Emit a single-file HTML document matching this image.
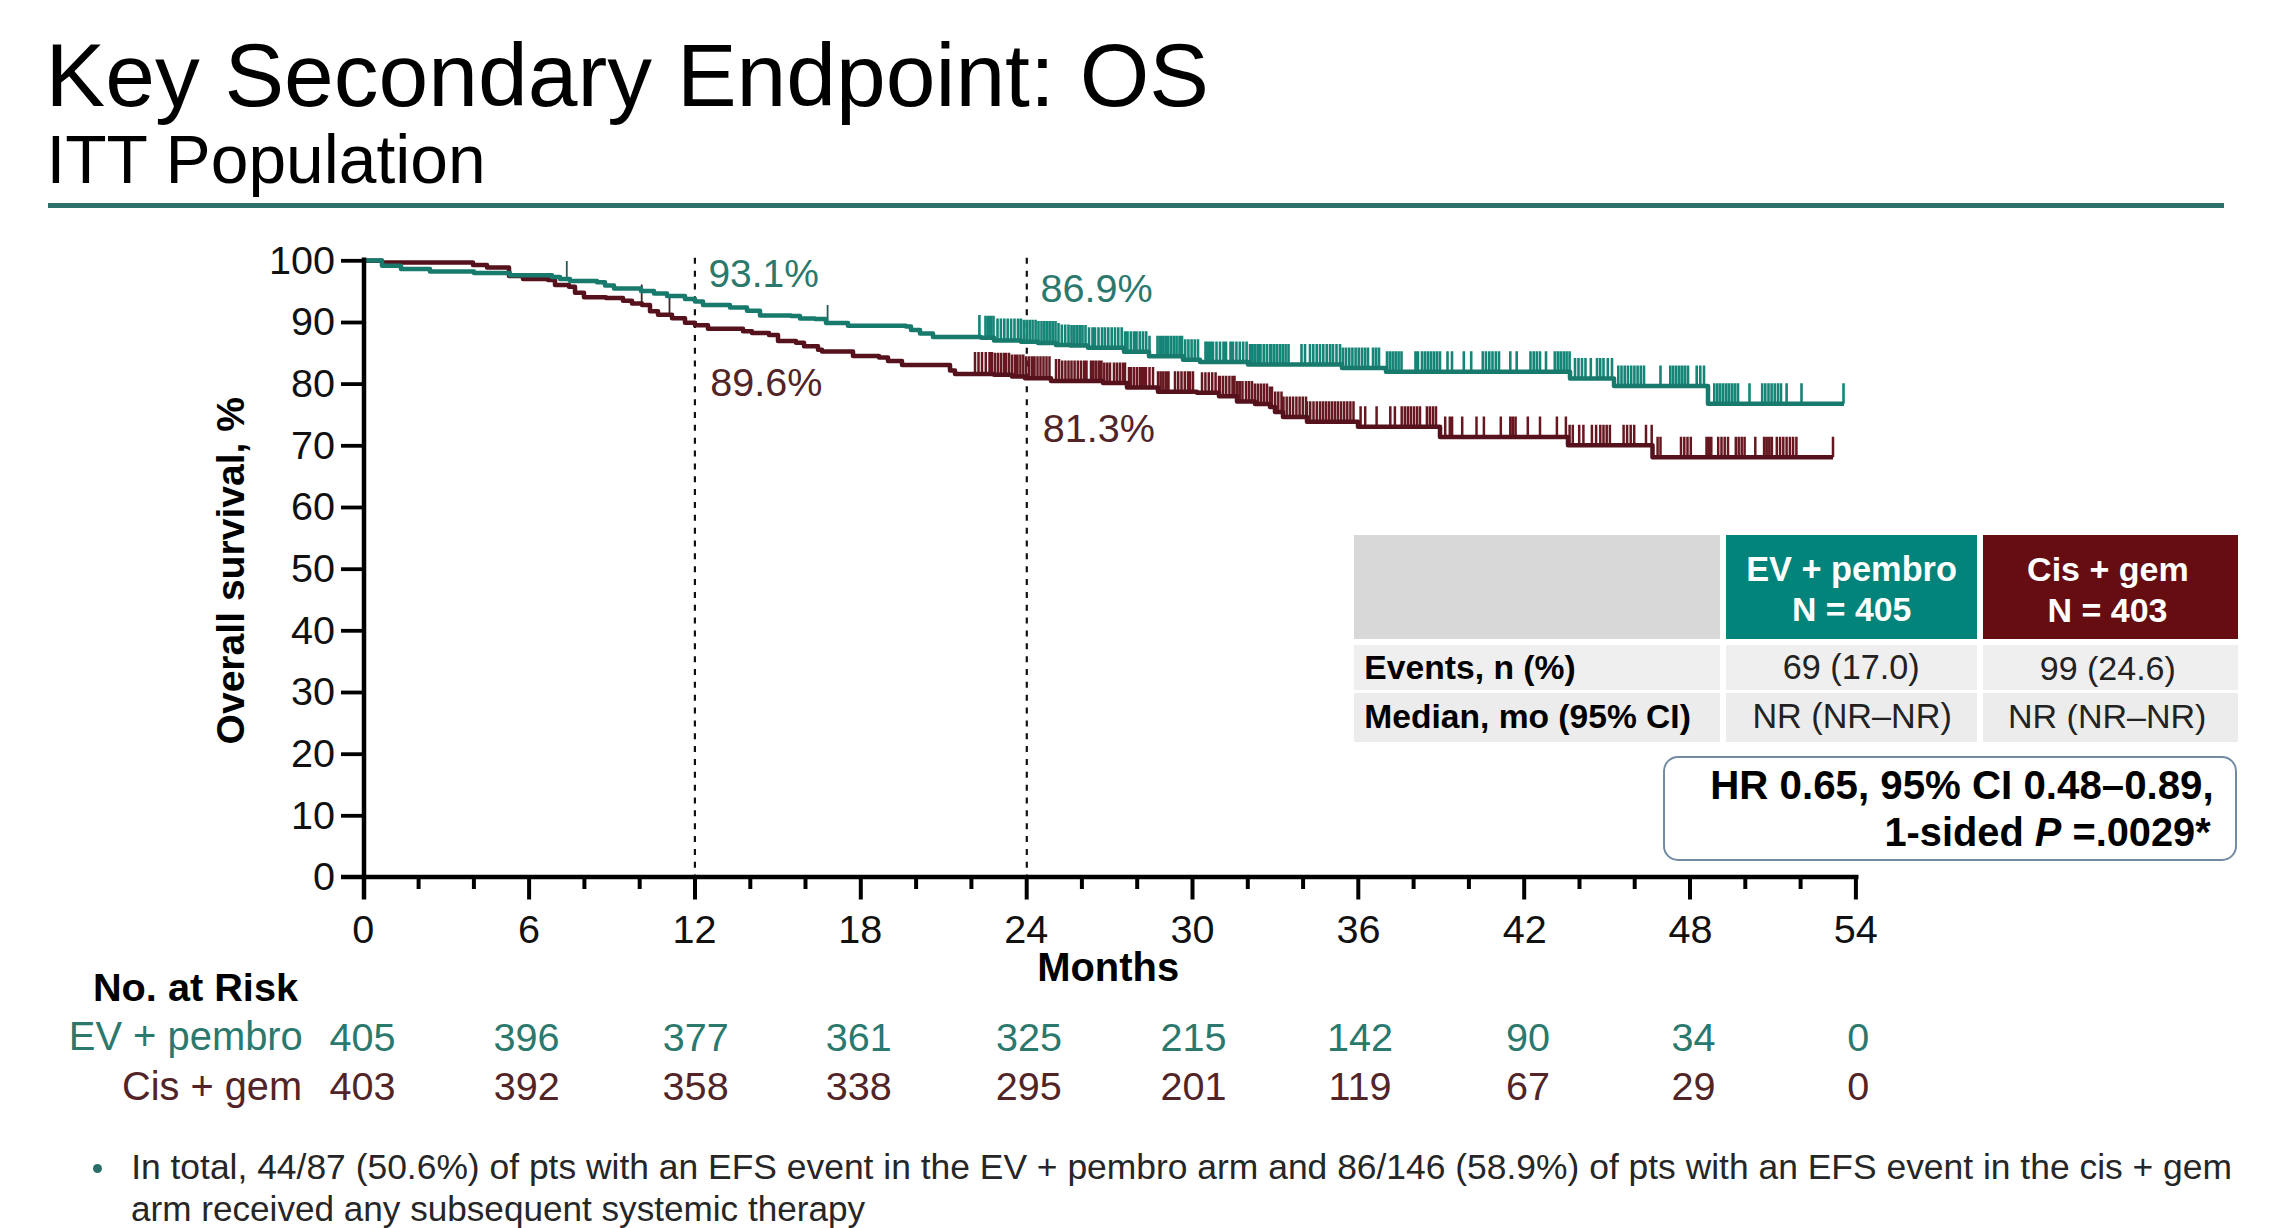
<!DOCTYPE html>
<html><head><meta charset="utf-8"><style>
html,body{margin:0;padding:0;background:#fff;}
body{width:2274px;height:1228px;position:relative;overflow:hidden;font-family:"Liberation Sans",sans-serif;}
.t{position:absolute;white-space:nowrap;transform-origin:0 0;}
.b{position:absolute;}
</style></head><body>
<div class="b" style="left:48px;top:203px;width:2176px;height:5px;background:#2c7169"></div>
<div class="b" style="left:1354px;top:535px;width:366px;height:104px;background:#d8d8d8"></div>
<div class="b" style="left:1725.5px;top:535px;width:251px;height:104px;background:#02847a"></div>
<div class="b" style="left:1983px;top:535px;width:254.5px;height:104px;background:#650d11"></div>
<div class="b" style="left:1354px;top:645px;width:366px;height:44.5px;background:#efefef"></div>
<div class="b" style="left:1725.5px;top:645px;width:251px;height:44.5px;background:#efefef"></div>
<div class="b" style="left:1983px;top:645px;width:254.5px;height:44.5px;background:#efefef"></div>
<div class="b" style="left:1354px;top:693px;width:366px;height:49px;background:#ececec"></div>
<div class="b" style="left:1725.5px;top:693px;width:251px;height:49px;background:#ececec"></div>
<div class="b" style="left:1983px;top:693px;width:254.5px;height:49px;background:#ececec"></div>
<div class="b" style="left:1663px;top:755.5px;width:574px;height:105px;border:2.5px solid #728aa3;border-radius:15px;box-sizing:border-box;background:#fff"></div>
<div class="b" style="left:92.5px;top:1164px;width:9px;height:9px;border-radius:50%;background:#2a6e6a"></div>
<svg width="2274" height="1228" viewBox="0 0 2274 1228" style="position:absolute;left:0;top:0">
<line x1="694.9" y1="257.8" x2="694.9" y2="876" stroke="#111" stroke-width="2.2" stroke-dasharray="6 6.85"/>
<line x1="1026.8" y1="257.8" x2="1026.8" y2="876" stroke="#111" stroke-width="2.2" stroke-dasharray="6 6.85"/>
<path d="M975.0,373.9V351.9M978.5,373.9V351.9M982.0,373.9V351.9M985.8,373.9V351.9M989.5,373.9V351.9M992.0,373.9V351.9M995.0,374.8V352.8M998.0,374.8V352.8M1001.0,374.8V352.8M1004.0,374.8V352.8M1006.0,374.8V352.8M1009.0,374.8V352.8M1012.0,376.5V354.5M1015.0,376.5V354.5M1017.5,376.5V354.5M1020.4,376.5V354.5M1023.3,376.5V354.5M1026.2,378.3V356.3M1029.1,378.3V356.3M1032.0,378.3V356.3M1034.5,378.3V356.3M1037.5,378.3V356.3M1040.5,378.3V356.3M1043.5,378.3V356.3M1046.5,378.3V356.3M1049.5,378.3V356.3M1056.0,381.0V359.0M1059.1,381.0V359.0M1062.2,381.0V360.5M1065.4,381.0V360.5M1068.5,381.0V360.5M1071.5,381.0V360.5M1074.6,381.0V360.5M1077.8,381.0V360.5M1080.9,381.0V360.5M1084.0,381.0V360.5M1086.5,381.0V360.5M1091.0,381.0V360.5M1093.5,381.0V360.5M1096.2,381.0V360.5M1099.0,381.0V360.5M1101.5,381.0V360.5M1104.3,383.0V362.5M1107.2,383.0V362.5M1110.0,383.0V362.5M1114.0,383.0V362.5M1117.0,383.0V362.5M1120.0,383.0V362.5M1123.0,383.0V362.5M1125.0,383.0V362.5M1129.0,387.4V366.9M1131.0,387.4V366.9M1134.0,387.4V366.9M1137.0,387.4V366.9M1140.0,387.4V366.9M1142.0,387.4V366.9M1144.0,387.4V366.9M1146.0,387.4V366.9M1149.5,387.4V366.9M1153.0,387.4V366.9M1158.0,391.8V371.3M1160.7,391.8V371.3M1163.3,391.8V371.3M1166.0,391.8V371.3M1168.5,391.8V371.3M1175.0,391.8V371.3M1178.2,391.8V371.3M1181.5,391.8V371.3M1184.8,391.8V371.3M1188.0,391.8V371.3M1190.0,391.8V371.3M1193.0,391.8V371.3M1202.0,392.7V372.2M1205.4,392.7V372.2M1208.8,392.7V372.2M1212.2,392.7V372.2M1215.6,392.7V372.2M1219.0,396.2V375.7M1220.0,396.2V375.7M1223.1,396.2V375.7M1226.2,396.2V375.7M1229.4,396.2V375.7M1232.5,396.2V375.7M1234.5,396.2V375.7M1237.2,401.5V381.0M1239.8,401.5V381.0M1242.5,401.5V381.0M1246.0,401.5V381.0M1249.0,401.5V381.0M1252.0,401.5V381.0M1255.0,404.1V383.6M1258.0,404.1V383.6M1261.0,404.1V383.6M1264.0,404.1V383.6M1267.0,404.1V383.6M1270.0,407.0V386.5M1272.0,407.0V386.5M1275.2,412.0V391.5M1278.3,412.0V391.5M1281.5,412.0V391.5M1283.5,417.0V396.5M1286.7,417.0V396.5M1289.9,417.0V396.5M1293.1,417.0V396.5M1296.4,417.0V396.5M1299.6,417.0V396.5M1302.8,417.0V396.5M1306.0,417.0V396.5M1307.0,421.8V401.3M1310.2,421.8V401.3M1313.5,421.8V401.3M1316.8,421.8V401.3M1320.0,421.8V401.3M1323.0,421.8V401.3M1326.0,421.8V401.3M1329.0,421.8V401.3M1332.0,421.8V401.3M1335.0,421.8V401.3M1338.0,421.8V401.3M1341.1,421.8V401.3M1344.2,421.8V401.3M1347.3,421.8V401.3M1350.4,421.8V401.3M1353.5,421.8V401.3M1360.6,426.7V406.2M1365.2,426.7V406.2M1376.6,426.7V406.2M1390.3,426.7V406.2M1394.9,426.7V406.2M1401.7,426.7V406.2M1404.8,426.7V406.2M1407.8,426.7V406.2M1410.8,426.7V406.2M1413.9,426.7V406.2M1417.0,426.7V406.2M1420.0,426.7V406.2M1426.9,426.7V406.2M1429.9,426.7V406.2M1433.0,426.7V406.2M1436.0,426.7V406.2M1445.2,437.0V416.5M1449.8,437.0V416.5M1452.1,437.0V416.5M1462.2,437.0V416.5M1476.5,437.0V416.5M1483.9,437.0V416.5M1500.8,437.0V416.5M1510.3,437.0V416.5M1512.9,437.0V416.5M1515.6,437.0V416.5M1527.8,437.0V416.5M1540.0,437.0V416.5M1556.9,437.0V416.5M1565.9,437.0V416.5M1569.6,445.3V424.8M1572.8,445.3V424.8M1579.2,445.3V424.8M1583.4,445.3V424.8M1591.9,445.3V424.8M1596.1,445.3V424.8M1600.3,445.3V424.8M1603.5,445.3V424.8M1606.7,445.3V424.8M1609.9,445.3V424.8M1623.6,445.3V424.8M1627.1,445.3V424.8M1630.7,445.3V424.8M1634.2,445.3V424.8M1646.0,445.3V424.8M1651.7,445.3V424.8M1657.6,457.3V436.8M1660.5,457.3V436.8M1681.0,457.3V436.8M1684.3,457.3V436.8M1687.5,457.3V436.8M1690.8,457.3V436.8M1706.5,457.3V436.8M1708.9,457.3V436.8M1711.3,457.3V436.8M1718.2,457.3V436.8M1721.5,457.3V436.8M1724.7,457.3V436.8M1728.0,457.3V436.8M1735.8,457.3V436.8M1738.7,457.3V436.8M1741.7,457.3V436.8M1744.6,457.3V436.8M1755.3,457.3V436.8M1764.1,457.3V436.8M1766.7,457.3V436.8M1769.3,457.3V436.8M1771.9,457.3V436.8M1776.8,457.3V436.8M1780.1,457.3V436.8M1783.3,457.3V436.8M1786.6,457.3V436.8M1789.9,457.3V436.8M1793.1,457.3V436.8M1796.4,457.3V436.8M1833.0,457.3V436.8" stroke="#661820" stroke-width="2.5" fill="none"/>
<path d="M641.7,303.4V284.4M669.5,314.8V295.8" stroke="#3a2a2a" stroke-width="1.8" fill="none"/>
<path d="M363,260.8H382V262.5H473V265H487V267.6H509V276H523V279H548V280H555V284.9H569V286.7H575V292.8H584V297.2H606V298.1H623V300.7H632V303.4H642V305.1H650V311.3H658V314.8H672V318.3H685V322.7H695V325.2H708V328.7H743V331.3H752V333.1H769V334.9H778V341H796V342.8H804V346.3H818V349.8H822V351.6H853V356H879V357.5H888V361H902V365.1H950V370.4H955V373.9H994V374.8H1012V376.5H1025V378.3H1051V381H1103V383H1127V387.4H1158V391.8H1197V392.7H1219V396.2H1237V401.5H1255V404.1H1270V407H1275V412H1283V417H1307V421.8H1358V426.7H1440V437H1568V445.3H1652.5V457.3H1833" stroke="#55121c" stroke-width="4.5" fill="none" stroke-linejoin="round"/>
<path d="M979.4,336.9V314.9M985.5,337.8V315.8M988.2,337.8V315.8M990.8,337.8V315.8M993.5,337.8V315.8M997.5,340.5V318.5M1000.9,340.5V318.5M1004.3,340.5V318.5M1007.7,340.5V318.5M1011.1,340.5V318.5M1014.5,340.5V318.5M1018.0,340.5V318.5M1020.9,340.5V318.5M1023.9,341.8V319.8M1026.8,341.8V319.8M1029.7,341.8V319.8M1032.6,341.8V319.8M1035.6,341.8V319.8M1038.5,343.1V321.1M1041.5,343.1V321.1M1044.3,343.1V321.1M1047.1,343.1V321.1M1049.9,343.1V321.1M1052.7,343.1V321.1M1055.5,343.1V321.1M1058.5,344.9V322.9M1061.8,344.9V324.4M1065.2,344.9V324.4M1068.5,344.9V324.4M1071.5,345.5V325.0M1074.2,345.5V325.0M1077.0,345.5V325.0M1079.8,345.5V325.0M1082.5,345.5V325.0M1085.5,345.5V325.0M1089.0,347.8V327.3M1092.5,347.8V327.3M1095.0,347.8V327.3M1098.5,347.8V327.3M1102.0,347.8V327.3M1105.0,347.8V327.3M1108.3,347.8V327.3M1111.7,347.8V327.3M1115.0,347.8V327.3M1118.3,347.8V327.3M1121.7,347.8V327.3M1125.0,351.8V331.3M1127.5,351.8V331.3M1130.8,351.8V331.3M1134.0,351.8V331.3M1136.5,351.8V331.3M1139.8,351.8V331.3M1143.0,351.8V331.3M1146.2,351.8V331.3M1149.5,356.2V335.7M1157.5,356.2V335.7M1160.2,356.2V335.7M1162.8,356.2V335.7M1165.5,356.2V335.7M1168.0,356.2V335.7M1170.9,356.2V335.7M1173.8,356.2V335.7M1176.6,356.2V335.7M1179.5,356.2V335.7M1182.0,356.2V335.7M1185.2,359.7V339.2M1188.4,359.7V339.2M1191.6,359.7V339.2M1194.8,359.7V339.2M1198.0,359.7V339.2M1205.5,361.9V341.4M1208.0,361.9V341.4M1210.5,361.9V341.4M1213.0,361.9V341.4M1216.5,361.9V341.4M1220.0,361.9V341.4M1223.5,361.9V341.4M1226.0,361.9V341.4M1230.5,361.9V341.4M1233.0,361.9V341.4M1236.4,361.9V341.4M1239.8,361.9V341.4M1243.2,361.9V341.4M1246.6,361.9V341.4M1250.0,364.5V344.0M1252.5,364.5V344.0M1255.2,364.5V344.0M1258.0,364.5V344.0M1260.5,364.5V344.0M1263.7,364.5V344.0M1266.8,364.5V344.0M1270.0,364.5V344.0M1271.0,364.5V344.0M1273.9,364.5V344.0M1276.8,364.5V344.0M1279.8,364.5V344.0M1282.7,364.5V344.0M1285.6,364.5V344.0M1288.5,364.5V344.0M1301.5,364.5V344.0M1305.0,364.5V344.0M1310.0,364.5V344.0M1313.3,364.5V344.0M1316.7,364.5V344.0M1320.0,364.5V344.0M1323.3,364.5V344.0M1326.7,364.5V344.0M1330.0,364.5V344.0M1333.0,364.5V344.0M1336.5,364.5V344.0M1340.0,364.5V344.0M1343.0,368.0V347.5M1346.1,368.0V347.5M1349.3,368.0V347.5M1352.4,368.0V347.5M1355.6,368.0V347.5M1358.7,368.0V347.5M1361.9,368.0V347.5M1365.0,368.0V347.5M1368.0,368.0V347.5M1373.0,368.0V347.5M1376.0,368.0V347.5M1379.0,368.0V347.5M1387.0,371.8V351.3M1389.9,371.8V351.3M1392.8,371.8V351.3M1395.7,371.8V351.3M1398.6,371.8V351.3M1401.5,371.8V351.3M1415.5,371.8V351.3M1418.0,371.8V351.3M1422.0,371.8V351.3M1425.0,371.8V351.3M1428.0,371.8V351.3M1431.0,371.8V351.3M1434.0,371.8V351.3M1437.0,371.8V351.3M1440.0,371.8V351.3M1447.5,371.8V351.3M1452.0,371.8V351.3M1463.8,371.8V351.3M1471.2,371.8V351.3M1482.8,371.8V351.3M1486.0,371.8V351.3M1489.3,371.8V351.3M1492.5,371.8V351.3M1495.8,371.8V351.3M1499.0,371.8V351.3M1510.3,371.8V351.3M1516.7,371.8V351.3M1530.5,371.8V351.3M1533.7,371.8V351.3M1536.8,371.8V351.3M1540.0,371.8V351.3M1546.0,371.8V351.3M1554.8,371.8V351.3M1557.8,371.8V351.3M1560.7,371.8V351.3M1563.7,371.8V351.3M1566.6,371.8V351.3M1569.6,371.8V351.3M1575.0,378.6V358.1M1578.5,378.6V358.1M1582.0,378.6V358.1M1585.5,378.6V358.1M1590.8,378.6V358.1M1597.0,378.6V358.1M1600.2,378.6V358.1M1603.5,378.6V358.1M1607.8,378.6V358.1M1612.0,378.6V358.1M1618.3,386.1V365.6M1621.5,386.1V365.6M1624.7,386.1V365.6M1627.9,386.1V365.6M1631.2,386.1V365.6M1634.4,386.1V365.6M1637.6,386.1V365.6M1640.8,386.1V365.6M1644.0,386.1V365.6M1660.5,386.1V365.6M1670.3,386.1V365.6M1673.2,386.1V365.6M1676.2,386.1V365.6M1679.2,386.1V365.6M1682.1,386.1V365.6M1685.0,386.1V365.6M1688.0,386.1V365.6M1696.7,386.1V365.6M1700.3,386.1V365.6M1704.0,386.1V365.6M1714.3,403.8V383.3M1717.3,403.8V383.3M1720.2,403.8V383.3M1723.2,403.8V383.3M1726.2,403.8V383.3M1729.1,403.8V383.3M1732.1,403.8V383.3M1735.0,403.8V383.3M1738.0,403.8V383.3M1749.5,403.8V383.3M1762.2,403.8V383.3M1765.3,403.8V383.3M1768.5,403.8V383.3M1771.6,403.8V383.3M1774.7,403.8V383.3M1777.9,403.8V383.3M1781.0,403.8V383.3M1786.6,403.8V383.3M1801.5,403.8V383.3M1843.5,403.8V383.3" stroke="#148576" stroke-width="2.6" fill="none"/>
<path d="M566.8,279.0V261.0M827.6,323.0V305.0" stroke="#2a5a55" stroke-width="1.8" fill="none"/>
<path d="M363,260.6H382V265.8H401V268.9H430V271.5H474V272.9H510V275.2H552V277H560V279H570V281H597V282.3H605V285.5H614V288.5H641V291H654V293.5H667V296H685V299H695V301.5H703V305H730V307.6H747V310.7H760V315.5H791V316H800V318.6H815V319H826V323H848V325.8H906V326.4H911V330H920V333.4H933V336.9H981V337.8H994V340.5H1021V341.8H1038V343.1H1056V344.9H1070V345.5H1088V347.8H1124V351.8H1149V356.2H1183V359.7H1200V361.9H1248V364.5H1342V368H1386V371.8H1570V378.6H1614V386.1H1708V403.8H1844" stroke="#177a6c" stroke-width="4.5" fill="none" stroke-linejoin="round"/>
<g stroke="#000" fill="none">
<line x1="364" y1="257.5" x2="364" y2="899.5" stroke-width="4.5"/>
<line x1="341" y1="877" x2="1858.5" y2="877" stroke-width="4.5"/>
<line x1="341" y1="815.8" x2="364" y2="815.8" stroke-width="3.8"/>
<line x1="341" y1="754.2" x2="364" y2="754.2" stroke-width="3.8"/>
<line x1="341" y1="692.5" x2="364" y2="692.5" stroke-width="3.8"/>
<line x1="341" y1="630.8" x2="364" y2="630.8" stroke-width="3.8"/>
<line x1="341" y1="569.2" x2="364" y2="569.2" stroke-width="3.8"/>
<line x1="341" y1="507.5" x2="364" y2="507.5" stroke-width="3.8"/>
<line x1="341" y1="445.8" x2="364" y2="445.8" stroke-width="3.8"/>
<line x1="341" y1="384.1" x2="364" y2="384.1" stroke-width="3.8"/>
<line x1="341" y1="322.5" x2="364" y2="322.5" stroke-width="3.8"/>
<line x1="341" y1="260.8" x2="364" y2="260.8" stroke-width="3.8"/>
<line x1="418.6" y1="877" x2="418.6" y2="889" stroke-width="4"/>
<line x1="473.9" y1="877" x2="473.9" y2="889" stroke-width="4"/>
<line x1="529.1" y1="877" x2="529.1" y2="899.5" stroke-width="4"/>
<line x1="584.4" y1="877" x2="584.4" y2="889" stroke-width="4"/>
<line x1="639.7" y1="877" x2="639.7" y2="889" stroke-width="4"/>
<line x1="695.0" y1="877" x2="695.0" y2="899.5" stroke-width="4"/>
<line x1="750.3" y1="877" x2="750.3" y2="889" stroke-width="4"/>
<line x1="805.5" y1="877" x2="805.5" y2="889" stroke-width="4"/>
<line x1="860.8" y1="877" x2="860.8" y2="899.5" stroke-width="4"/>
<line x1="916.1" y1="877" x2="916.1" y2="889" stroke-width="4"/>
<line x1="971.4" y1="877" x2="971.4" y2="889" stroke-width="4"/>
<line x1="1026.7" y1="877" x2="1026.7" y2="899.5" stroke-width="4"/>
<line x1="1081.9" y1="877" x2="1081.9" y2="889" stroke-width="4"/>
<line x1="1137.2" y1="877" x2="1137.2" y2="889" stroke-width="4"/>
<line x1="1192.5" y1="877" x2="1192.5" y2="899.5" stroke-width="4"/>
<line x1="1247.8" y1="877" x2="1247.8" y2="889" stroke-width="4"/>
<line x1="1303.1" y1="877" x2="1303.1" y2="889" stroke-width="4"/>
<line x1="1358.3" y1="877" x2="1358.3" y2="899.5" stroke-width="4"/>
<line x1="1413.6" y1="877" x2="1413.6" y2="889" stroke-width="4"/>
<line x1="1468.9" y1="877" x2="1468.9" y2="889" stroke-width="4"/>
<line x1="1524.2" y1="877" x2="1524.2" y2="899.5" stroke-width="4"/>
<line x1="1579.5" y1="877" x2="1579.5" y2="889" stroke-width="4"/>
<line x1="1634.7" y1="877" x2="1634.7" y2="889" stroke-width="4"/>
<line x1="1690.0" y1="877" x2="1690.0" y2="899.5" stroke-width="4"/>
<line x1="1745.3" y1="877" x2="1745.3" y2="889" stroke-width="4"/>
<line x1="1800.6" y1="877" x2="1800.6" y2="889" stroke-width="4"/>
<line x1="1855.9" y1="877" x2="1855.9" y2="899.5" stroke-width="4"/>
</g>
</svg>
<div class="t" style="left:45.50px;top:31.28px;font-size:89.45px;line-height:89.45px;font-weight:normal;font-style:normal;color:#000;transform:scaleX(1.0000);">Key Secondary Endpoint: OS</div>
<div class="t" style="left:46.45px;top:125.67px;font-size:67.73px;line-height:67.73px;font-weight:normal;font-style:normal;color:#000;transform:scaleX(1.0000);">ITT Population</div>
<div class="t" style="left:313.00px;top:857.28px;font-size:39.6px;line-height:39.6px;font-weight:normal;font-style:normal;color:#111;transform:scaleX(1.0000);">0</div>
<div class="t" style="left:291.00px;top:795.61px;font-size:39.6px;line-height:39.6px;font-weight:normal;font-style:normal;color:#111;transform:scaleX(1.0000);">10</div>
<div class="t" style="left:291.00px;top:733.94px;font-size:39.6px;line-height:39.6px;font-weight:normal;font-style:normal;color:#111;transform:scaleX(1.0000);">20</div>
<div class="t" style="left:291.00px;top:672.27px;font-size:39.6px;line-height:39.6px;font-weight:normal;font-style:normal;color:#111;transform:scaleX(1.0000);">30</div>
<div class="t" style="left:291.00px;top:610.60px;font-size:39.6px;line-height:39.6px;font-weight:normal;font-style:normal;color:#111;transform:scaleX(1.0000);">40</div>
<div class="t" style="left:291.00px;top:548.93px;font-size:39.6px;line-height:39.6px;font-weight:normal;font-style:normal;color:#111;transform:scaleX(1.0000);">50</div>
<div class="t" style="left:291.00px;top:487.26px;font-size:39.6px;line-height:39.6px;font-weight:normal;font-style:normal;color:#111;transform:scaleX(1.0000);">60</div>
<div class="t" style="left:291.00px;top:425.59px;font-size:39.6px;line-height:39.6px;font-weight:normal;font-style:normal;color:#111;transform:scaleX(1.0000);">70</div>
<div class="t" style="left:291.00px;top:363.92px;font-size:39.6px;line-height:39.6px;font-weight:normal;font-style:normal;color:#111;transform:scaleX(1.0000);">80</div>
<div class="t" style="left:291.00px;top:302.25px;font-size:39.6px;line-height:39.6px;font-weight:normal;font-style:normal;color:#111;transform:scaleX(1.0000);">90</div>
<div class="t" style="left:269.00px;top:240.58px;font-size:39.6px;line-height:39.6px;font-weight:normal;font-style:normal;color:#111;transform:scaleX(1.0000);">100</div>
<div class="t" style="left:352.30px;top:909.98px;font-size:39.6px;line-height:39.6px;font-weight:normal;font-style:normal;color:#111;transform:scaleX(1.0000);">0</div>
<div class="t" style="left:518.01px;top:909.98px;font-size:39.6px;line-height:39.6px;font-weight:normal;font-style:normal;color:#111;transform:scaleX(1.0000);">6</div>
<div class="t" style="left:672.48px;top:909.98px;font-size:39.6px;line-height:39.6px;font-weight:normal;font-style:normal;color:#111;transform:scaleX(1.0000);">12</div>
<div class="t" style="left:838.19px;top:909.98px;font-size:39.6px;line-height:39.6px;font-weight:normal;font-style:normal;color:#111;transform:scaleX(1.0000);">18</div>
<div class="t" style="left:1004.29px;top:909.98px;font-size:39.6px;line-height:39.6px;font-weight:normal;font-style:normal;color:#111;transform:scaleX(1.0000);">24</div>
<div class="t" style="left:1170.50px;top:909.98px;font-size:39.6px;line-height:39.6px;font-weight:normal;font-style:normal;color:#111;transform:scaleX(1.0000);">30</div>
<div class="t" style="left:1336.46px;top:909.98px;font-size:39.6px;line-height:39.6px;font-weight:normal;font-style:normal;color:#111;transform:scaleX(1.0000);">36</div>
<div class="t" style="left:1502.68px;top:909.98px;font-size:39.6px;line-height:39.6px;font-weight:normal;font-style:normal;color:#111;transform:scaleX(1.0000);">42</div>
<div class="t" style="left:1668.39px;top:909.98px;font-size:39.6px;line-height:39.6px;font-weight:normal;font-style:normal;color:#111;transform:scaleX(1.0000);">48</div>
<div class="t" style="left:1833.73px;top:909.98px;font-size:39.6px;line-height:39.6px;font-weight:normal;font-style:normal;color:#111;transform:scaleX(1.0000);">54</div>
<div class="t" style="left:1037.25px;top:948.42px;font-size:39.91px;line-height:39.91px;font-weight:bold;font-style:normal;color:#000;transform:scaleX(1.0000);">Months</div>
<div class="t" style="left:92.95px;top:967.89px;font-size:39.7px;line-height:39.7px;font-weight:bold;font-style:normal;color:#000;transform:scaleX(1.0000);">No. at Risk</div>
<div class="t" style="left:68.80px;top:1017.41px;font-size:39.92px;line-height:39.92px;font-weight:normal;font-style:normal;color:#2b786d;transform:scaleX(1.0000);">EV + pembro</div>
<div class="t" style="left:122.00px;top:1066.94px;font-size:39.76px;line-height:39.76px;font-weight:normal;font-style:normal;color:#522428;transform:scaleX(1.0000);">Cis + gem</div>
<div class="t" style="left:329.57px;top:1017.68px;font-size:39.6px;line-height:39.6px;font-weight:normal;font-style:normal;color:#2b786d;transform:scaleX(1.0000);">405</div>
<div class="t" style="left:329.57px;top:1067.08px;font-size:39.6px;line-height:39.6px;font-weight:normal;font-style:normal;color:#522428;transform:scaleX(1.0000);">403</div>
<div class="t" style="left:493.52px;top:1017.68px;font-size:39.6px;line-height:39.6px;font-weight:normal;font-style:normal;color:#2b786d;transform:scaleX(1.0000);">396</div>
<div class="t" style="left:493.65px;top:1067.08px;font-size:39.6px;line-height:39.6px;font-weight:normal;font-style:normal;color:#522428;transform:scaleX(1.0000);">392</div>
<div class="t" style="left:662.75px;top:1017.68px;font-size:39.6px;line-height:39.6px;font-weight:normal;font-style:normal;color:#2b786d;transform:scaleX(1.0000);">377</div>
<div class="t" style="left:662.62px;top:1067.08px;font-size:39.6px;line-height:39.6px;font-weight:normal;font-style:normal;color:#522428;transform:scaleX(1.0000);">358</div>
<div class="t" style="left:825.85px;top:1017.68px;font-size:39.6px;line-height:39.6px;font-weight:normal;font-style:normal;color:#2b786d;transform:scaleX(1.0000);">361</div>
<div class="t" style="left:825.73px;top:1067.08px;font-size:39.6px;line-height:39.6px;font-weight:normal;font-style:normal;color:#522428;transform:scaleX(1.0000);">338</div>
<div class="t" style="left:996.03px;top:1017.68px;font-size:39.6px;line-height:39.6px;font-weight:normal;font-style:normal;color:#2b786d;transform:scaleX(1.0000);">325</div>
<div class="t" style="left:995.78px;top:1067.08px;font-size:39.6px;line-height:39.6px;font-weight:normal;font-style:normal;color:#522428;transform:scaleX(1.0000);">295</div>
<div class="t" style="left:1160.47px;top:1017.68px;font-size:39.6px;line-height:39.6px;font-weight:normal;font-style:normal;color:#2b786d;transform:scaleX(1.0000);">215</div>
<div class="t" style="left:1160.60px;top:1067.08px;font-size:39.6px;line-height:39.6px;font-weight:normal;font-style:normal;color:#522428;transform:scaleX(1.0000);">201</div>
<div class="t" style="left:1327.00px;top:1017.68px;font-size:39.6px;line-height:39.6px;font-weight:normal;font-style:normal;color:#2b786d;transform:scaleX(1.0000);">142</div>
<div class="t" style="left:1328.50px;top:1067.08px;font-size:39.6px;line-height:39.6px;font-weight:normal;font-style:normal;color:#522428;transform:scaleX(1.0000);">119</div>
<div class="t" style="left:1505.88px;top:1017.68px;font-size:39.6px;line-height:39.6px;font-weight:normal;font-style:normal;color:#2b786d;transform:scaleX(1.0000);">90</div>
<div class="t" style="left:1506.00px;top:1067.08px;font-size:39.6px;line-height:39.6px;font-weight:normal;font-style:normal;color:#522428;transform:scaleX(1.0000);">67</div>
<div class="t" style="left:1671.47px;top:1017.68px;font-size:39.6px;line-height:39.6px;font-weight:normal;font-style:normal;color:#2b786d;transform:scaleX(1.0000);">34</div>
<div class="t" style="left:1671.60px;top:1067.08px;font-size:39.6px;line-height:39.6px;font-weight:normal;font-style:normal;color:#522428;transform:scaleX(1.0000);">29</div>
<div class="t" style="left:1847.20px;top:1017.68px;font-size:39.6px;line-height:39.6px;font-weight:normal;font-style:normal;color:#2b786d;transform:scaleX(1.0000);">0</div>
<div class="t" style="left:1847.20px;top:1067.08px;font-size:39.6px;line-height:39.6px;font-weight:normal;font-style:normal;color:#522428;transform:scaleX(1.0000);">0</div>
<div class="t" style="left:708.45px;top:255.35px;font-size:38.93px;line-height:38.93px;font-weight:normal;font-style:normal;color:#2b786d;transform:scaleX(1.0000);">93.1%</div>
<div class="t" style="left:710.25px;top:363.23px;font-size:39.54px;line-height:39.54px;font-weight:normal;font-style:normal;color:#522428;transform:scaleX(1.0000);">89.6%</div>
<div class="t" style="left:1040.45px;top:268.88px;font-size:39.6px;line-height:39.6px;font-weight:normal;font-style:normal;color:#2b786d;transform:scaleX(1.0000);">86.9%</div>
<div class="t" style="left:1042.85px;top:408.98px;font-size:39.6px;line-height:39.6px;font-weight:normal;font-style:normal;color:#522428;transform:scaleX(1.0000);">81.3%</div>
<div class="t" style="left:1746.15px;top:551.53px;font-size:34.34px;line-height:34.34px;font-weight:bold;font-style:normal;color:#fff;transform:scaleX(1.0000);">EV + pembro</div>
<div class="t" style="left:1792.05px;top:592.98px;font-size:33.81px;line-height:33.81px;font-weight:bold;font-style:normal;color:#fff;transform:scaleX(1.0000);">N = 405</div>
<div class="t" style="left:2027.12px;top:551.82px;font-size:34px;line-height:34px;font-weight:bold;font-style:normal;color:#fff;transform:scaleX(1.0000);">Cis + gem</div>
<div class="t" style="left:2047.50px;top:592.82px;font-size:34px;line-height:34px;font-weight:bold;font-style:normal;color:#fff;transform:scaleX(1.0000);">N = 403</div>
<div class="t" style="left:1364.35px;top:650.90px;font-size:33.67px;line-height:33.67px;font-weight:bold;font-style:normal;color:#000;transform:scaleX(1.0000);">Events, n (%)</div>
<div class="t" style="left:1364.35px;top:699.77px;font-size:33.58px;line-height:33.58px;font-weight:bold;font-style:normal;color:#000;transform:scaleX(1.0000);">Median, mo (95% CI)</div>
<div class="t" style="left:1782.75px;top:650.45px;font-size:34.2px;line-height:34.2px;font-weight:normal;font-style:normal;color:#222;transform:scaleX(1.0000);">69 (17.0)</div>
<div class="t" style="left:1752.45px;top:699.26px;font-size:34.19px;line-height:34.19px;font-weight:normal;font-style:normal;color:#222;transform:scaleX(1.0000);">NR (NR–NR)</div>
<div class="t" style="left:2039.75px;top:650.62px;font-size:34px;line-height:34px;font-weight:normal;font-style:normal;color:#222;transform:scaleX(1.0000);">99 (24.6)</div>
<div class="t" style="left:2008.00px;top:699.42px;font-size:34px;line-height:34px;font-weight:normal;font-style:normal;color:#222;transform:scaleX(1.0000);">NR (NR–NR)</div>
<div class="t" style="left:1710.25px;top:765.92px;font-size:40.26px;line-height:40.26px;font-weight:bold;font-style:normal;color:#000;transform:scaleX(1.0000);">HR 0.65, 95% CI 0.48–0.89,</div>
<div class="t" style="left:131.15px;top:1149.61px;font-size:35.43px;line-height:35.43px;font-weight:normal;font-style:normal;color:#262626;transform:scaleX(1.0000);">In total, 44/87 (50.6%) of pts with an EFS event in the EV + pembro arm and 86/146 (58.9%) of pts with an EFS event in the cis + gem</div>
<div class="t" style="left:131.00px;top:1190.65px;font-size:35.14px;line-height:35.14px;font-weight:normal;font-style:normal;color:#262626;transform:scaleX(1.0000);">arm received any subsequent systemic therapy</div>
<div class="t" style="left:1884.42px;top:813.31px;font-size:39.8px;line-height:39.8px;font-weight:bold;color:#000;transform:scaleX(1.0)">1-sided <i>P</i> =.0029*</div>
<div class="t" style="left:0;top:0;font-size:39.1px;line-height:39.1px;font-weight:bold;color:#000;transform-origin:0 0;transform:translate(243.6px,744.50px) scaleX(1.0) rotate(-90deg) translate(0,-33.10px)">Overall survival, %</div>
</body></html>
